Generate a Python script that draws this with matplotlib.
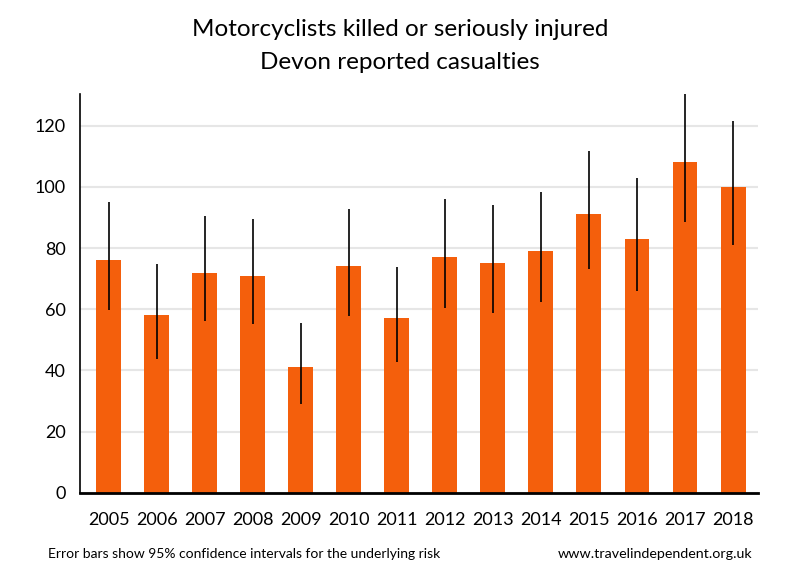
import numpy as np
import matplotlib
matplotlib.use('Agg')
import matplotlib.pyplot as plt

years = ['2005', '2006', '2007', '2008', '2009', '2010', '2011',
         '2012', '2013', '2014', '2015', '2016', '2017', '2018']
casualties = [76, 58, 72, 71, 41, 74, 57, 77, 75, 79, 91, 83, 108, 100]
ci_low = [59.7, 43.8, 56.2, 55.2, 29.0, 57.8, 42.7, 60.4, 58.8, 62.4, 73.1, 66.0, 88.5, 81.0]
ci_high = [95.0, 74.8, 90.5, 89.5, 55.5, 92.8, 73.8, 96.0, 94.0, 98.3, 111.7, 102.9, 131.5, 121.6]
yticks = [0, 20, 40, 60, 80, 100, 120]

plt.rcParams['font.family'] = ['Lato', 'DejaVu Sans']

fig = plt.figure(figsize=(8, 5.8), dpi=100)
ax = fig.add_axes([0.1, 0.1505, 0.8475, 0.6875])

x = np.arange(len(years))
vals = np.array(casualties)
err = [vals - np.array(ci_low), np.array(ci_high) - vals]
ax.bar(x, vals, width=0.52, color='#f45f0c', zorder=2)
ax.errorbar(x, vals, yerr=err, fmt='none', ecolor='black', elinewidth=1.2, capsize=0, zorder=3)

ax.set_xlim(-0.6, 13.52)
ax.set_ylim(0, 130.4)
ax.set_yticks(yticks)
ax.set_xticks(x)
ax.set_xticklabels(years)
ax.tick_params(axis='both', length=0, labelsize=13)
ax.tick_params(axis='x', pad=14)
ax.tick_params(axis='y', pad=10)
ax.grid(axis='y', color='#e6e6e6', linewidth=1.5, zorder=0)
for s in ['top', 'right']:
    ax.spines[s].set_visible(False)
ax.spines['left'].set_linewidth(1.2)
ax.spines['bottom'].set_linewidth(2)

fig.text(0.5, 0.95, 'Motorcyclists killed or seriously injured', ha='center', va='center', fontsize=17.5)
fig.text(0.5, 0.893, 'Devon reported casualties', ha='center', va='center', fontsize=17.5)
fig.text(0.06, 0.045, 'Error bars show 95% confidence intervals for the underlying risk', ha='left', va='center', fontsize=10)
fig.text(0.94, 0.045, 'www.travelindependent.org.uk', ha='right', va='center', fontsize=10.3)

fig.savefig('out.png', dpi=100)
